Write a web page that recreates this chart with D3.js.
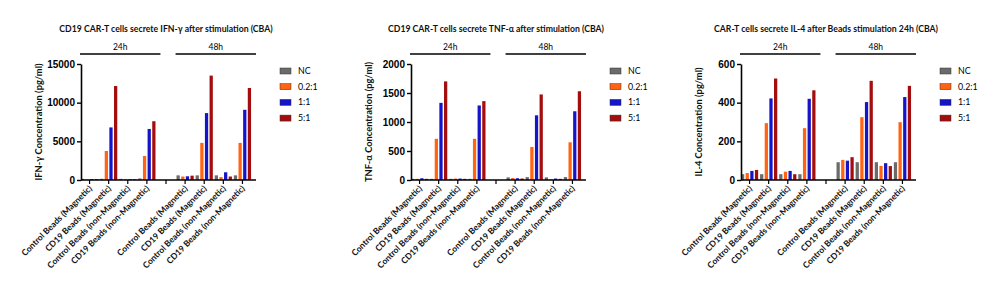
<!DOCTYPE html>
<meta charset="utf-8">
<body style="margin:0;background:#fff">
<script src="https://d3js.org/d3.v7.min.js"></script>
<div id="chart"></div>
<script>

// categories
var timepoints = ["24h", "48h"];
var beads = ["Control Beads (Magnetic)", "CD19 Beads (Magnetic)",
             "Control Beads (non-Magnetic)", "CD19 Beads (non-Magnetic)"];
var series = ["NC", "0.2:1", "1:1", "5:1"];
var colors = ["#6b6b6b", "#ff6414", "#1414c8", "#a30d0d"];

// values, one row per bead group (24h x4, then 48h x4), columns = series
var ifngValues = [[150, 60, 130, 120], [150, 3750, 6800, 12150], [150, 100, 100, 100], [200, 3100, 6600, 7600],
                  [600, 450, 480, 560], [600, 4800, 8650, 13500], [600, 380, 1000, 450], [600, 4800, 9080, 11900]];
var tnfValues  = [[20, 20, 30, 20], [20, 710, 1330, 1700], [20, 25, 25, 20], [20, 710, 1285, 1360],
                  [45, 35, 30, 25], [50, 570, 1115, 1475], [45, 12, 25, 20], [50, 650, 1185, 1530]];
var il4Values  = [[30, 36, 47, 52], [30, 294, 422, 525], [30, 43, 47, 30], [30, 268, 420, 464],
                  [92, 104, 100, 118], [92, 325, 403, 513], [92, 73, 87, 72], [92, 299, 429, 487]];

var titles = ["CD19 CAR-T cells secrete IFN-γ after stimulation (CBA)",
              "CD19 CAR-T cells secrete TNF-α after stimulation (CBA)",
              "CAR-T cells secrete IL-4 after Beads stimulation 24h (CBA)"];
var yTitles = ["IFN-γ Concentration (pg/ml)", "TNF-α Concentration (pg/ml)", "IL-4 Concentration (pg/ml)"];
var yTicks = [[0, 5000, 10000, 15000], [0, 500, 1000, 1500, 2000], [0, 200, 400, 600]];
var panelValues = [ifngValues, tnfValues, il4Values];

var svg = d3.select("#chart").append("svg")
    .attr("width", 1000)
    .attr("height", 294);

// x categories: 4 groups, a gap, 4 groups
var keys = [];
timepoints.forEach(function(t, ti) {
  if (ti > 0) keys.push("gap");
  beads.forEach(function(b, bi) { keys.push(t + "|" + bi); });
});

var x = d3.scaleBand().domain(keys).range([80, 252]);
var xInner = d3.scaleBand().domain(series).range([-8.6, 8.6]).paddingInner(0.3);
var axisBottomY = 180, axisTopY = 64;

panelValues.forEach(function(values, p) {
  var g = svg.append("g").attr("transform", "translate(" + (p * 330) + ",0)");

  var y = d3.scaleLinear()
      .domain([0, yTicks[p][yTicks[p].length - 1]])
      .range([axisBottomY, axisTopY]);

  // title
  g.append("text")
    .attr("x", 166).attr("y", 32)
    .attr("text-anchor", "middle")
    .style("font-family", "Lato")
    .style("font-weight", "bold")
    .style("font-size", "8.7px")
    .style("fill", "#111")
    .text(titles[p]);

  // time brackets
  timepoints.forEach(function(t, ti) {
    var x0 = x(t + "|0"), x1 = x(t + "|3") + x.bandwidth() + 4;
    g.append("line")
      .attr("x1", x0).attr("x2", x1)
      .attr("y1", 54).attr("y2", 54)
      .style("stroke", "#000").style("stroke-width", 1.4);
    g.append("text")
      .attr("x", (x0 + x1) / 2).attr("y", 50)
      .attr("text-anchor", "middle")
      .style("font-family", "Lato")
      .style("font-size", "8.5px")
      .text(t);
  });

  // bars
  var rows = [];
  timepoints.forEach(function(t, ti) {
    beads.forEach(function(b, bi) {
      series.forEach(function(s, si) {
        rows.push({key: t + "|" + bi, s: s, si: si, v: values[ti * 4 + bi][si]});
      });
    });
  });
  g.selectAll(".bar").data(rows).enter().append("rect")
    .attr("class", "bar")
    .attr("x", function(d) { return x(d.key) + x.bandwidth() / 2 + xInner(d.s); })
    .attr("width", xInner.bandwidth())
    .attr("y", function(d) { return y(d.v); })
    .attr("height", function(d) { return axisBottomY - y(d.v); })
    .style("fill", function(d) { return colors[d.si]; });

  // y axis
  var ya = g.append("g")
    .attr("transform", "translate(81,0)")
    .call(d3.axisLeft(y).tickValues(yTicks[p]).tickFormat(d3.format("d"))
      .tickSize(4).tickPadding(2).tickSizeOuter(0));
  ya.select(".domain").style("stroke-width", 1.6);
  ya.selectAll(".tick line").style("stroke-width", 1.4);
  ya.selectAll("text")
    .style("font-family", "Liberation Sans")
    .style("font-weight", "bold")
    .style("font-size", "10px");

  // x axis
  var xa = g.append("g")
    .attr("transform", "translate(0," + axisBottomY + ")")
    .call(d3.axisBottom(x).tickSize(4).tickSizeOuter(0)
      .tickFormat(function(k) { return k === "gap" ? "" : beads[+k.split("|")[1]]; }));
  xa.select(".domain").attr("d", "M81,0H256").style("stroke-width", 1.6);
  xa.selectAll(".tick line").style("stroke-width", 1.2);
  xa.selectAll("text")
    .attr("text-anchor", "end")
    .attr("dx", 0).attr("dy", 0)
    .attr("transform", "translate(3,9) rotate(-45)")
    .attr("y", 0)
    .style("font-family", "Lato")
    .style("font-weight", "bold")
    .style("font-size", "8.5px")
    .style("fill", "#111");

  // y title
  g.append("text")
    .attr("transform", "translate(42," + ((axisBottomY + axisTopY) / 2) + ") rotate(-90)")
    .attr("text-anchor", "middle")
    .style("font-family", "Lato")
    .style("font-weight", "bold")
    .style("font-size", "9.3px")
    .style("fill", "#111")
    .text(yTitles[p]);

  // legend
  var legend = g.selectAll(".legend").data(series).enter().append("g")
    .attr("class", "legend")
    .attr("transform", function(d, i) { return "translate(280," + (71 + i * 15.7) + ")"; });
  legend.append("rect")
    .attr("x", 0).attr("y", -3).attr("width", 11).attr("height", 6)
    .style("fill", function(d, i) { return colors[i]; })
    .style("stroke", "#333").style("stroke-width", 0.5);
  legend.append("text")
    .attr("x", 18).attr("y", 3)
    .style("font-family", "Lato")
    .style("font-size", "8.8px")
    .text(function(d) { return d; });
});

</script>
</body>
